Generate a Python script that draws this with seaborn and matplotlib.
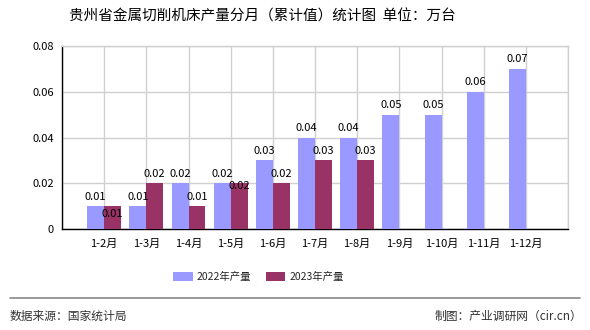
import matplotlib
matplotlib.use("Agg")
import matplotlib.pyplot as plt
import seaborn as sns
import pandas as pd
from matplotlib.lines import Line2D
from matplotlib.patches import Patch

months = ["1-2月", "1-3月", "1-4月", "1-5月", "1-6月", "1-7月",
          "1-8月", "1-9月", "1-10月", "1-11月", "1-12月"]
output_2022 = [0.01, 0.01, 0.02, 0.02, 0.03, 0.04, 0.04, 0.05, 0.05, 0.06, 0.07]
output_2023 = [0.01, 0.02, 0.01, 0.02, 0.02, 0.03, 0.03, None, None, None, None]
series_names = ["2022年产量", "2023年产量"]
colors = ["#9999FF", "#993366"]

rows = []
for m, a, b in zip(months, output_2022, output_2023):
    rows.append({"月份": m, "系列": series_names[0], "产量": a})
    rows.append({"月份": m, "系列": series_names[1], "产量": b})
df = pd.DataFrame(rows)

sns.set_theme(style="white")
plt.rcParams["font.family"] = ["Noto Sans CJK SC", "DejaVu Sans"]

fig = plt.figure(figsize=(5.9, 3.3), dpi=100)
ax = fig.add_axes([62 / 590, 1 - 229 / 330, 506 / 590, 183 / 330])

sns.barplot(data=df, x="月份", y="产量", hue="系列", order=months,
            hue_order=series_names, palette=colors, width=0.8,
            saturation=1, ax=ax, legend=False, errorbar=None, zorder=3,
            linewidth=0, edgecolor="none")

ax.set_xlim(-1, len(months))
ax.set_ylim(0, 0.08)
ax.set_yticks([0, 0.02, 0.04, 0.06, 0.08])
ax.set_yticklabels(["0", "0.02", "0.04", "0.06", "0.08"])
ax.set_xticks(list(range(-1, len(months) + 1)))
ax.set_xticklabels([""] + months + [""])
ax.set_xlabel("")
ax.set_ylabel("")
ax.tick_params(axis="both", labelsize=8, colors="black", length=4,
               direction="out", width=1, pad=2)
ax.tick_params(axis="x", pad=3)

ax.grid(True, color="#d0d0d0", linewidth=1, zorder=0)
ax.set_axisbelow(True)
for side in ["top", "right"]:
    ax.spines[side].set_color("#d0d0d0")
    ax.spines[side].set_linewidth(1)
for side in ["left", "bottom"]:
    ax.spines[side].set_color("black")
    ax.spines[side].set_linewidth(1)

# value labels on the bars
label_shift = {(0, 1): -0.0075, (3, 1): -0.0055}
for hi, container in enumerate(ax.containers):
    vals = output_2022 if hi == 0 else output_2023
    for ci, (bar, v) in enumerate(zip(container, vals)):
        if v is None:
            continue
        cx = bar.get_x() + bar.get_width() / 2
        y = v + 0.002 + label_shift.get((ci, hi), 0)
        ax.text(cx, y, f"{v:.2f}", ha="center", va="bottom", fontsize=8,
                color="black", zorder=5)

fig.text(0.445, 1 - 17 / 330, "贵州省金属切削机床产量分月（累计值）统计图  单位：万台",
         ha="center", va="center", fontsize=10.5, color="black")

handles = [Patch(facecolor=c, edgecolor="none") for c in colors]
fig.legend(handles, series_names, loc="center", bbox_to_anchor=(0.438, 1 - 277 / 330),
           ncol=2, frameon=False, fontsize=7.5, handlelength=1.85, handleheight=0.85,
           columnspacing=1.4, handletextpad=0.4)

fig.add_artist(Line2D([10 / 590, 580 / 590], [1 - 298 / 330, 1 - 298 / 330],
                      color="#888888", linewidth=1.2, transform=fig.transFigure))
fig.text(10 / 590, 1 - 316 / 330, "数据来源：国家统计局", ha="left", va="center",
         fontsize=8.5, color="#333333")
fig.text(582 / 590, 1 - 316 / 330, "制图：产业调研网（cir.cn）", ha="right", va="center",
         fontsize=8.5, color="#333333")

fig.savefig("out.png", dpi=100)
